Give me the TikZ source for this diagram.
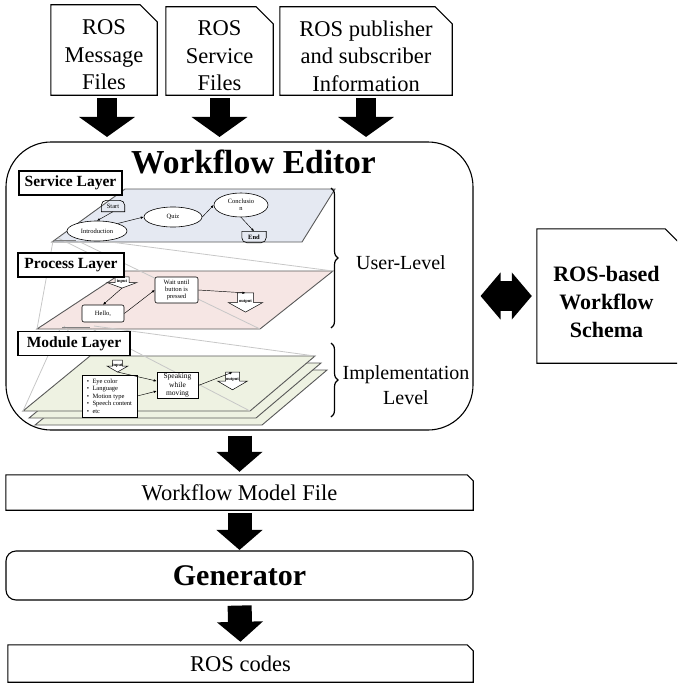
\documentclass[tikz,border=0pt]{standalone}
\usepackage{fontspec}
\setmainfont{Liberation Serif}
\usetikzlibrary{arrows.meta,shapes.geometric,decorations.pathreplacing}

\definecolor{svcblue}{RGB}{229,233,242}
\definecolor{procpink}{RGB}{246,230,228}
\definecolor{modgreen}{RGB}{238,242,226}

% box outline with a folded top-right corner
\newcommand\dogear[2]{%
  \draw[docline] (#1.south west) -- (#1.north west) -- ([xshift=-#2]#1.north east)
    -- ([yshift=-#2]#1.north east) -- (#1.south east) -- cycle;}

\begin{document}
\begin{tikzpicture}[x=1pt,y=-1pt,
    docline/.style={line width=1.1pt},
    bigtext/.style={font=\fontsize{22.5}{27.5}\selectfont,align=center},
    fat/.style={line width=20pt,-{Triangle[width=55pt,length=20pt]}},
    fatter/.style={line width=24pt,-{Triangle[width=45pt,length=20pt]}},
    both/.style={line width=30pt,{Triangle[width=46pt,length=20pt]}-{Triangle[width=46pt,length=20pt]}},
    layertag/.style={draw,line width=1.6pt,fill=white,inner xsep=3pt,
      font=\bfseries\fontsize{15.5}{17}\selectfont,minimum height=24pt},
    plane/.style={draw=black!65,line width=0.9pt},
    ray/.style={black!22,line width=0.8pt},
    tiny/.style={font=\fontsize{6.5}{7.4}\selectfont,align=center,inner sep=1pt},
    task/.style={tiny,draw,fill=white,line width=0.6pt},
    flow/.style={-{Latex[length=3pt,width=2.5pt]},line width=0.45pt},
    brace/.style={decorate,decoration={brace,amplitude=7pt},line width=1.2pt},
    pics/hollow/.style={code={
      \draw[fill=white,line width=0.5pt] (-7,-8) -- (7,-8) -- (7,0) -- (15,0)
        -- (0,8) -- (-15,0) -- (-7,0) -- cycle;
      \coordinate (-top) at (0,-8);
      \coordinate (-tip) at (0,8);
      \node[font=\bfseries\fontsize{4.5}{5}\selectfont,inner sep=0] (-txt) at (0,-1) {#1};
    }},
  ]
  \useasboundingbox (0,0) rectangle (677,685);
  \clip (0,0) rectangle (677,685);

  % input files
  \node[minimum width=106pt,minimum height=90pt] (msg) at (104,50) {};
  \node[minimum width=107pt,minimum height=88pt] (srv) at (219.5,51) {};
  \node[minimum width=172pt,minimum height=88pt] (pub) at (366,51) {};
  \dogear{msg}{17pt}
  \dogear{srv}{17pt}
  \dogear{pub}{17pt}
  \node[bigtext] (msgtxt) at ([yshift=-5pt]msg.center) {ROS\\Message\\Files};
  \node[bigtext] (srvtxt) at ([yshift=-5pt]srv.center) {ROS\\Service\\Files};
  \node[bigtext] (pubtxt) at ([yshift=-5pt]pub.center) {ROS publisher\\and subscriber\\Information};

  % editor frame
  \node[draw,docline,rounded corners=45pt,minimum width=467pt,minimum height=288pt]
    (editor) at (239.5,286) {};
  \node[font=\bfseries\fontsize{33.5}{37}\selectfont] (title) at (253.5,162) {Workflow Editor};

  \draw[fat,shorten <=3pt,shorten >=4.5pt] ([xshift=3pt]msg.south) -- ([xshift=3pt]msg.south |- editor.north);
  \draw[fat,shorten <=3pt,shorten >=4.5pt] (srv.south) -- (srv.south |- editor.north);
  \draw[fat,shorten <=3pt,shorten >=4.5pt] (pub.south) -- (pub.south |- editor.north);

  % module layer: three stacked sheets
  \foreach \d in {12,6,0}
    \filldraw[plane,fill=modgreen] (23+\d,411+1.17*\d) -- (250+\d,411+1.17*\d)
      -- (315+\d,356+1.17*\d) -- (90+\d,356+1.17*\d) -- cycle;
  % process and service layers
  \filldraw[plane,fill=procpink] (37,329) -- (260,329) -- (333,271) -- (125,271) -- cycle;
  \filldraw[plane,fill=svcblue] (52,242) -- (302,242) -- (335,189) -- (125,189) -- cycle;

  % zoom rays between layers
  \draw[ray] (53,241) -- (37,329) (78,241) -- (260,329) (80,238) -- (333,271) (58,238) -- (125,271);
  \draw[ray] (60,329) -- (23,411) (92,329) -- (250,411) (94,326) -- (315,356) (64,326) -- (90,356);
  \draw[black!50,line width=0.8pt] (55,240) -- (76,240) (62,327) -- (90,327);

  % service layer
  \node[tiny,minimum width=23pt,minimum height=11pt] (start) at (113,206) {Start};
  \draw[line width=0.6pt] (start.south west) [rounded corners=5pt] -- (start.north west)
    -- (start.north east) [sharp corners] -- (start.south east) -- cycle;
  \node[task,ellipse,minimum width=60pt,minimum height=20pt] (intro) at (97,231) {Introduction};
  \node[task,ellipse,minimum width=58pt,minimum height=20pt] (quiz) at (173,217) {Quiz};
  \node[task,ellipse,minimum width=54pt,minimum height=24pt] (concl) at (241,205) {Conclusio\\n};
  \node[tiny,font=\bfseries\fontsize{6.5}{7.4}\selectfont,minimum width=24pt,minimum height=11pt] (endn) at (254,237) {End};
  \draw[line width=0.6pt] (endn.north west) [rounded corners=5pt] -- (endn.south west)
    -- (endn.south east) [sharp corners] -- (endn.north east) -- cycle;
  \draw[flow] (start.south) -- (intro.north);
  \draw[flow] (intro.20) -- (quiz.west);
  \draw[flow] (quiz.east) -- (concl.west);
  \draw[flow] (concl.south) -- (endn.north);

  % process layer
  \pic[yscale=0.7] (pin) at (122,282.5) {hollow=input};
  \pic[xscale=1.15,yscale=1.2] (pout) at (245.5,302.5) {hollow=output};
  \node[task,rounded corners=2pt,minimum width=43pt,minimum height=26pt] (wait) at (176.5,290) {Wait until\\button is\\pressed};
  \node[task,rounded corners=2pt,minimum width=42pt,minimum height=17pt] (hello) at (103,313.5) {Hello,};
  \draw[flow] (pin-tip) -- (hello.north);
  \draw[flow] (hello.east) -- (wait.west);
  \draw[flow] (wait.east) -- (pout-top);

  % module layer
  \pic[xscale=0.7,yscale=0.75] (min) at (117.5,366) {hollow=input};
  \pic[yscale=1.1] (mout) at (232.5,381) {hollow=output};
  \node[task,align=left,minimum width=55pt,minimum height=42pt] (list) at (109.5,396)
    {\textbullet\ \ Eye color\\\textbullet\ \ Language\\\textbullet\ \ Motion type\\\textbullet\ \ Speech content\\\textbullet\ \ etc};
  \node[task,font=\fontsize{7.5}{8.4}\selectfont,minimum width=41pt,minimum height=25pt] (speak) at (177.5,385.5) {Speaking\\while\\moving};
  \draw[flow] (min-tip) -- (speak.168);
  \draw[flow] (list.east) -- (speak.195);
  \draw[flow] (speak.east) -- (mout-top);

  % layer tags
  \node[layertag,minimum width=103pt] (svctag) at (70.5,183) {Service Layer};
  \node[layertag,minimum width=106pt] (proctag) at (71,265) {Process Layer};
  \node[layertag,minimum width=112pt] (modtag) at (74,343.5) {Module Layer};

  % levels
  \draw[brace] (331,188) -- (331,328);
  \draw[brace] (331,343) -- (331,417);
  \node[font=\fontsize{20}{25}\selectfont] (user) at (401,263) {User-Level};
  \node[font=\fontsize{20}{25}\selectfont,align=center] (impl) at (406,385.5) {Implementation\\Level};

  % schema
  \node[minimum width=143pt,minimum height=134pt] (schema) at (608.5,296) {};
  \dogear{schema}{15pt}
  \node[font=\bfseries\fontsize{22}{28}\selectfont,align=center] (schematxt) at ([xshift=-2pt,yshift=-6pt]schema.center)
    {ROS-based\\Workflow\\Schema};
  \draw[both,shorten <=7pt,shorten >=5pt] (editor.east |- schema.west) -- (schema.west);

  % output chain
  \node[bigtext,minimum width=467pt,minimum height=35pt] (model) at (239.5,492.5) {Workflow Model File};
  \dogear{model}{6pt}
  \node[draw,docline,rounded corners=10pt,minimum width=467pt,minimum height=49pt,
    font=\bfseries\fontsize{30}{32}\selectfont] (gen) at (239.5,575.5) {Generator};
  \node[bigtext,minimum width=465pt,minimum height=37pt] (code) at (240.5,663.5) {ROS codes};
  \dogear{code}{6pt}

  \draw[fatter,shorten <=5pt,shorten >=3pt] (editor.south) -- (model.north);
  \draw[fatter,shorten <=3pt,shorten >=0.5pt] (model.south) -- (gen.north);
  \draw[fatter,shorten <=5pt,shorten >=3pt] (gen.south) -- (code.north);
\end{tikzpicture}
\end{document}
